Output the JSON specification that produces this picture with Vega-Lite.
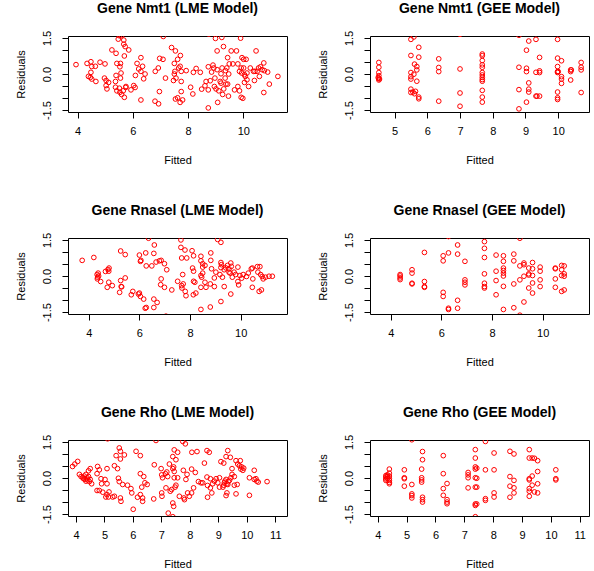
{
"$schema": "https://vega.github.io/schema/vega-lite/v6.json",
"padding": {"left": 14, "top": 1, "right": 0, "bottom": 0},
"background": "white",
"datasets": {
"nmt1_lme": [{"x":3.94,"y":0.39},{"x":4.34,"y":0.44},{"x":4.48,"y":0.51},{"x":4.51,"y":0.31},{"x":4.39,"y":-0.1},{"x":4.46,"y":-0.14},{"x":4.51,"y":-0.21},{"x":4.48,"y":0.07},{"x":4.66,"y":-0.31},{"x":4.64,"y":0.32},{"x":4.81,"y":0.49},{"x":4.99,"y":0.42},{"x":4.97,"y":-0.17},{"x":5.03,"y":-0.27},{"x":5.03,"y":-0.48},{"x":5.06,"y":-0.62},{"x":5.12,"y":-0.35},{"x":5.24,"y":1.0},{"x":5.39,"y":0.86},{"x":5.42,"y":0.44},{"x":5.55,"y":0.44},{"x":5.39,"y":-0.06},{"x":5.37,"y":-0.31},{"x":5.37,"y":-0.55},{"x":5.42,"y":-0.7},{"x":5.51,"y":1.59},{"x":5.47,"y":1.45},{"x":5.59,"y":1.59},{"x":5.67,"y":1.41},{"x":5.67,"y":1.24},{"x":5.72,"y":1.14},{"x":5.85,"y":1.0},{"x":5.69,"y":0.75},{"x":5.53,"y":0.3},{"x":5.57,"y":0.04},{"x":5.55,"y":-0.17},{"x":5.51,"y":-0.59},{"x":5.53,"y":-0.76},{"x":5.59,"y":-0.85},{"x":5.65,"y":-0.7},{"x":5.69,"y":-0.97},{"x":5.74,"y":-0.56},{"x":5.75,"y":-0.52},{"x":6.03,"y":-0.48},{"x":6.08,"y":-0.56},{"x":5.93,"y":-0.66},{"x":6.15,"y":0.44},{"x":6.29,"y":0.68},{"x":6.21,"y":0.21},{"x":6.29,"y":0.11},{"x":6.35,"y":0.32},{"x":6.44,"y":0.0},{"x":6.39,"y":-0.2},{"x":6.09,"y":-0.06},{"x":6.29,"y":-1.08},{"x":6.8,"y":-1.13},{"x":6.93,"y":-1.24},{"x":6.96,"y":-0.73},{"x":6.81,"y":0.11},{"x":6.92,"y":0.25},{"x":6.97,"y":0.65},{"x":7.09,"y":0.61},{"x":7.1,"y":1.56},{"x":7.18,"y":-0.17},{"x":7.4,"y":1.1},{"x":7.54,"y":0.96},{"x":7.5,"y":0.44},{"x":7.52,"y":0.11},{"x":7.5,"y":0.0},{"x":7.47,"y":-0.27},{"x":7.56,"y":-0.17},{"x":7.62,"y":0.61},{"x":7.72,"y":0.77},{"x":7.71,"y":0.32},{"x":7.75,"y":0.11},{"x":7.66,"y":0.25},{"x":7.75,"y":-0.31},{"x":7.75,"y":-0.73},{"x":7.54,"y":-1.04},{"x":7.62,"y":-0.99},{"x":7.71,"y":-1.18},{"x":7.8,"y":-1.08},{"x":7.93,"y":0.14},{"x":8.09,"y":-0.55},{"x":8.17,"y":-0.83},{"x":8.19,"y":0.07},{"x":8.29,"y":0.23},{"x":8.44,"y":0.07},{"x":8.49,"y":-0.63},{"x":8.61,"y":-0.49},{"x":8.65,"y":-0.31},{"x":8.73,"y":0.3},{"x":8.73,"y":-0.66},{"x":8.73,"y":-1.41},{"x":8.75,"y":1.66},{"x":8.8,"y":-0.28},{"x":8.85,"y":0.08},{"x":8.9,"y":0.37},{"x":8.93,"y":0.25},{"x":8.95,"y":-0.52},{"x":8.97,"y":-0.17},{"x":9.01,"y":-0.62},{"x":9.05,"y":0.18},{"x":9.05,"y":0.96},{"x":8.99,"y":1.48},{"x":9.07,"y":-1.18},{"x":9.11,"y":-0.7},{"x":9.16,"y":-0.31},{"x":9.19,"y":0.01},{"x":9.19,"y":-0.38},{"x":9.22,"y":1.52},{"x":9.23,"y":0.25},{"x":9.25,"y":-0.85},{"x":9.28,"y":1.14},{"x":9.29,"y":-0.62},{"x":9.34,"y":-0.17},{"x":9.35,"y":0.14},{"x":9.37,"y":-0.42},{"x":9.4,"y":0.25},{"x":9.43,"y":0.68},{"x":9.43,"y":-0.42},{"x":9.46,"y":-0.92},{"x":9.47,"y":0.0},{"x":9.49,"y":0.42},{"x":9.56,"y":0.96},{"x":9.62,"y":0.42},{"x":9.68,"y":-0.66},{"x":9.75,"y":0.96},{"x":9.8,"y":0.42},{"x":9.8,"y":-0.52},{"x":9.86,"y":0.11},{"x":9.86,"y":-0.7},{"x":9.9,"y":1.49},{"x":9.92,"y":0.25},{"x":9.92,"y":-0.97},{"x":9.94,"y":0.04},{"x":9.98,"y":-1.01},{"x":9.95,"y":0.68},{"x":10.01,"y":0.61},{"x":10.01,"y":0.25},{"x":10.04,"y":-0.03},{"x":10.04,"y":-0.35},{"x":10.1,"y":0.61},{"x":10.07,"y":-0.1},{"x":10.13,"y":0.04},{"x":10.13,"y":-0.24},{"x":10.19,"y":-0.52},{"x":10.25,"y":0.25},{"x":10.37,"y":0.11},{"x":10.42,"y":0.11},{"x":10.4,"y":-0.27},{"x":10.46,"y":0.96},{"x":10.5,"y":0.11},{"x":10.55,"y":0.25},{"x":10.58,"y":-0.1},{"x":10.62,"y":0.3},{"x":10.68,"y":0.18},{"x":10.74,"y":0.46},{"x":10.74,"y":-0.77},{"x":10.76,"y":0.14},{"x":10.88,"y":0.08},{"x":10.94,"y":-0.42},{"x":11.25,"y":-0.1}],
"nmt1_gee": [{"x":4.52,"y":0.48},{"x":4.52,"y":0.28},{"x":4.52,"y":0.06},{"x":4.52,"y":-0.07},{"x":4.52,"y":-0.18},{"x":4.52,"y":-0.25},{"x":4.54,"y":-0.21},{"x":4.5,"y":-0.15},{"x":5.5,"y":1.44},{"x":5.5,"y":0.77},{"x":5.5,"y":0.06},{"x":5.5,"y":-0.11},{"x":5.5,"y":-0.21},{"x":5.5,"y":-0.63},{"x":5.5,"y":-0.77},{"x":5.59,"y":1.54},{"x":5.61,"y":0.41},{"x":5.59,"y":-0.01},{"x":5.56,"y":-0.75},{"x":5.61,"y":-0.82},{"x":5.68,"y":0.31},{"x":5.68,"y":0.17},{"x":5.68,"y":-0.3},{"x":5.74,"y":1.11},{"x":5.74,"y":0.7},{"x":5.74,"y":-0.96},{"x":5.74,"y":-1.03},{"x":5.64,"y":-0.72},{"x":6.35,"y":0.63},{"x":6.35,"y":0.27},{"x":6.35,"y":0.1},{"x":6.35,"y":-1.13},{"x":7.0,"y":1.65},{"x":7.0,"y":0.21},{"x":7.0,"y":-0.79},{"x":7.0,"y":-1.34},{"x":7.68,"y":0.83},{"x":7.68,"y":0.76},{"x":7.68,"y":0.56},{"x":7.68,"y":0.38},{"x":7.68,"y":0.28},{"x":7.68,"y":0.06},{"x":7.68,"y":-0.04},{"x":7.68,"y":-0.14},{"x":7.68,"y":-0.23},{"x":7.68,"y":-0.3},{"x":7.68,"y":-0.68},{"x":7.68,"y":-0.96},{"x":7.68,"y":-1.17},{"x":8.8,"y":1.61},{"x":8.8,"y":0.28},{"x":8.8,"y":-0.65},{"x":8.8,"y":-1.45},{"x":9.03,"y":0.99},{"x":9.03,"y":0.24},{"x":9.03,"y":0.1},{"x":9.03,"y":-1.17},{"x":9.1,"y":1.37},{"x":9.1,"y":-0.37},{"x":9.1,"y":-0.63},{"x":9.1,"y":-0.75},{"x":9.32,"y":1.44},{"x":9.32,"y":0.07},{"x":9.32,"y":-0.92},{"x":9.35,"y":-0.92},{"x":9.43,"y":0.69},{"x":9.43,"y":0.13},{"x":9.43,"y":0.06},{"x":9.43,"y":-0.92},{"x":9.98,"y":1.44},{"x":9.98,"y":0.66},{"x":9.98,"y":0.31},{"x":9.98,"y":0.1},{"x":9.98,"y":0.06},{"x":9.98,"y":-0.75},{"x":9.98,"y":-0.99},{"x":9.98,"y":-1.06},{"x":10.0,"y":0.1},{"x":10.1,"y":0.55},{"x":10.1,"y":-0.11},{"x":10.1,"y":-0.21},{"x":10.1,"y":-0.39},{"x":10.38,"y":0.17},{"x":10.38,"y":0.1},{"x":10.38,"y":-0.25},{"x":10.4,"y":0.17},{"x":10.7,"y":0.48},{"x":10.7,"y":0.28},{"x":10.7,"y":0.17},{"x":10.7,"y":-0.77}],
"rnasel_lme": [{"x":3.74,"y":0.65},{"x":4.2,"y":0.77},{"x":4.33,"y":0.06},{"x":4.35,"y":-0.05},{"x":4.37,"y":0.12},{"x":4.39,"y":0.0},{"x":4.34,"y":-0.12},{"x":4.47,"y":-0.23},{"x":4.66,"y":0.19},{"x":4.76,"y":0.27},{"x":4.8,"y":0.33},{"x":4.79,"y":0.2},{"x":4.73,"y":-0.47},{"x":4.79,"y":-0.26},{"x":4.93,"y":-0.4},{"x":5.26,"y":1.04},{"x":5.44,"y":0.89},{"x":5.26,"y":-0.19},{"x":5.28,"y":-0.44},{"x":5.22,"y":-0.68},{"x":5.44,"y":-0.08},{"x":5.3,"y":-0.45},{"x":5.68,"y":-0.78},{"x":5.74,"y":-0.64},{"x":6.0,"y":0.87},{"x":6.04,"y":0.61},{"x":6.06,"y":0.65},{"x":6.0,"y":-0.71},{"x":6.04,"y":-0.85},{"x":5.96,"y":-0.75},{"x":6.17,"y":-0.96},{"x":6.23,"y":-1.34},{"x":6.27,"y":-1.31},{"x":6.25,"y":0.96},{"x":6.27,"y":0.42},{"x":6.36,"y":1.57},{"x":6.49,"y":0.42},{"x":6.59,"y":1.29},{"x":6.57,"y":0.94},{"x":6.66,"y":0.58},{"x":6.57,"y":-0.96},{"x":6.57,"y":-1.31},{"x":6.7,"y":-1.1},{"x":6.79,"y":0.63},{"x":6.86,"y":0.65},{"x":6.99,"y":0.51},{"x":6.86,"y":-0.12},{"x":6.84,"y":-0.36},{"x":6.99,"y":-0.47},{"x":7.08,"y":0.26},{"x":7.05,"y":-1.67},{"x":7.28,"y":-0.58},{"x":7.51,"y":-0.22},{"x":7.64,"y":1.5},{"x":7.64,"y":1.19},{"x":7.67,"y":0.75},{"x":7.71,"y":0.06},{"x":7.67,"y":-0.4},{"x":7.68,"y":-0.5},{"x":7.73,"y":-0.33},{"x":7.8,"y":1.08},{"x":7.87,"y":0.75},{"x":7.81,"y":-0.64},{"x":7.84,"y":-0.82},{"x":8.08,"y":1.05},{"x":8.14,"y":0.84},{"x":8.1,"y":0.33},{"x":8.14,"y":0.2},{"x":8.14,"y":-0.22},{"x":8.19,"y":-0.26},{"x":8.13,"y":-0.78},{"x":8.23,"y":-0.71},{"x":8.43,"y":0.82},{"x":8.43,"y":0.63},{"x":8.5,"y":0.51},{"x":8.5,"y":0.37},{"x":8.43,"y":0.02},{"x":8.46,"y":-0.05},{"x":8.5,"y":0.12},{"x":8.43,"y":-0.47},{"x":8.43,"y":-1.39},{"x":8.59,"y":0.44},{"x":8.63,"y":-0.47},{"x":8.59,"y":-0.26},{"x":8.82,"y":0.96},{"x":8.82,"y":0.65},{"x":8.85,"y":0.3},{"x":8.8,"y":-0.33},{"x":8.96,"y":-0.44},{"x":8.8,"y":-1.29},{"x":8.96,"y":-0.08},{"x":9.02,"y":0.16},{"x":9.09,"y":1.52},{"x":9.22,"y":1.4},{"x":9.22,"y":0.56},{"x":9.24,"y":0.47},{"x":9.22,"y":0.35},{"x":9.18,"y":0.06},{"x":9.28,"y":-0.05},{"x":9.22,"y":-1.06},{"x":9.35,"y":0.26},{"x":9.41,"y":0.34},{"x":9.48,"y":0.44},{"x":9.54,"y":0.16},{"x":9.35,"y":-0.44},{"x":9.54,"y":0.3},{"x":9.58,"y":0.12},{"x":9.61,"y":0.54},{"x":9.63,"y":0.4},{"x":9.61,"y":-0.75},{"x":9.67,"y":-0.05},{"x":9.74,"y":0.16},{"x":9.8,"y":0.06},{"x":9.89,"y":0.37},{"x":9.92,"y":-0.37},{"x":9.89,"y":-0.23},{"x":9.97,"y":0.02},{"x":10.04,"y":-0.09},{"x":10.1,"y":0.06},{"x":10.23,"y":-0.02},{"x":10.3,"y":0.12},{"x":10.42,"y":0.3},{"x":10.46,"y":0.33},{"x":10.46,"y":-0.47},{"x":10.48,"y":-0.12},{"x":10.66,"y":0.39},{"x":10.76,"y":0.39},{"x":10.73,"y":-0.64},{"x":10.82,"y":-0.58},{"x":10.68,"y":0.16},{"x":10.79,"y":0.06},{"x":10.85,"y":-0.02},{"x":10.89,"y":-0.12},{"x":10.98,"y":-0.05},{"x":11.12,"y":-0.01},{"x":11.25,"y":-0.01}],
"rnasel_gee": [{"x":4.37,"y":0.06},{"x":4.37,"y":0.0},{"x":4.37,"y":-0.08},{"x":4.37,"y":-0.15},{"x":4.84,"y":0.26},{"x":4.84,"y":0.12},{"x":4.84,"y":-0.3},{"x":4.84,"y":-0.33},{"x":5.33,"y":0.98},{"x":5.33,"y":-0.23},{"x":5.33,"y":-0.44},{"x":5.33,"y":-0.47},{"x":6.07,"y":0.84},{"x":6.07,"y":0.63},{"x":6.07,"y":-0.68},{"x":6.07,"y":-0.85},{"x":6.28,"y":1.64},{"x":6.28,"y":0.96},{"x":6.28,"y":-1.34},{"x":6.28,"y":-1.39},{"x":6.64,"y":1.29},{"x":6.64,"y":0.91},{"x":6.64,"y":-1.01},{"x":6.64,"y":-1.34},{"x":6.93,"y":0.61},{"x":6.93,"y":-0.16},{"x":6.93,"y":-0.26},{"x":6.93,"y":-0.37},{"x":7.7,"y":1.43},{"x":7.7,"y":1.15},{"x":7.7,"y":0.77},{"x":7.7,"y":0.09},{"x":7.7,"y":-0.3},{"x":7.7,"y":-0.44},{"x":7.7,"y":-0.5},{"x":8.16,"y":0.87},{"x":8.16,"y":0.2},{"x":8.16,"y":-0.19},{"x":8.16,"y":-0.78},{"x":8.45,"y":0.84},{"x":8.45,"y":0.61},{"x":8.45,"y":0.33},{"x":8.45,"y":0.23},{"x":8.45,"y":0.12},{"x":8.45,"y":0.0},{"x":8.45,"y":-0.43},{"x":8.45,"y":-1.39},{"x":8.86,"y":0.91},{"x":8.86,"y":0.63},{"x":8.86,"y":-0.33},{"x":8.86,"y":-1.32},{"x":9.1,"y":1.57},{"x":9.1,"y":0.42},{"x":9.1,"y":-0.16},{"x":9.1,"y":-1.63},{"x":9.26,"y":0.54},{"x":9.26,"y":0.47},{"x":9.26,"y":-0.01},{"x":9.26,"y":-1.08},{"x":9.45,"y":0.33},{"x":9.45,"y":0.09},{"x":9.45,"y":0.04},{"x":9.45,"y":-0.5},{"x":9.6,"y":0.56},{"x":9.6,"y":0.3},{"x":9.6,"y":0.02},{"x":9.6,"y":-0.29},{"x":9.6,"y":-0.71},{"x":9.9,"y":0.37},{"x":9.9,"y":0.2},{"x":9.9,"y":-0.16},{"x":9.9,"y":-0.44},{"x":10.5,"y":0.33},{"x":10.5,"y":0.3},{"x":10.5,"y":-0.12},{"x":10.5,"y":-0.47},{"x":10.75,"y":0.44},{"x":10.75,"y":0.26},{"x":10.75,"y":0.02},{"x":10.75,"y":-0.64},{"x":10.85,"y":0.42},{"x":10.85,"y":0.09},{"x":10.85,"y":-0.01},{"x":10.85,"y":-0.58}],
"rho_lme": [{"x":3.88,"y":0.48},{"x":3.96,"y":0.58},{"x":4.06,"y":0.69},{"x":4.12,"y":0.15},{"x":4.18,"y":0.06},{"x":4.24,"y":0.01},{"x":4.27,"y":-0.03},{"x":4.29,"y":0.08},{"x":4.32,"y":-0.06},{"x":4.35,"y":-0.13},{"x":4.39,"y":0.01},{"x":4.41,"y":-0.08},{"x":4.44,"y":0.06},{"x":4.47,"y":-0.15},{"x":4.5,"y":-0.06},{"x":4.35,"y":0.15},{"x":4.44,"y":0.3},{"x":4.5,"y":0.39},{"x":4.55,"y":-0.24},{"x":4.76,"y":0.48},{"x":4.82,"y":0.34},{"x":4.74,"y":0.18},{"x":4.74,"y":-0.52},{"x":4.82,"y":-0.52},{"x":4.88,"y":-0.03},{"x":4.9,"y":-0.24},{"x":4.94,"y":-0.59},{"x":5.02,"y":-0.06},{"x":5.09,"y":-0.24},{"x":5.09,"y":0.39},{"x":5.11,"y":1.63},{"x":5.09,"y":-0.69},{"x":5.14,"y":-0.79},{"x":5.05,"y":-0.79},{"x":5.16,"y":-0.58},{"x":5.29,"y":-0.79},{"x":5.35,"y":-0.76},{"x":5.35,"y":0.51},{"x":5.46,"y":0.39},{"x":5.41,"y":0.93},{"x":5.52,"y":1.25},{"x":5.56,"y":1.11},{"x":5.56,"y":0.79},{"x":5.7,"y":0.96},{"x":5.49,"y":-0.01},{"x":5.52,"y":-0.15},{"x":5.56,"y":-0.83},{"x":5.58,"y":-0.97},{"x":5.64,"y":-0.27},{"x":5.81,"y":-0.3},{"x":5.93,"y":-0.44},{"x":5.96,"y":-0.62},{"x":6.01,"y":-1.3},{"x":6.11,"y":1.11},{"x":6.26,"y":0.93},{"x":6.26,"y":0.18},{"x":6.31,"y":-0.38},{"x":6.26,"y":-0.69},{"x":6.16,"y":-0.8},{"x":6.34,"y":-0.83},{"x":6.34,"y":-0.97},{"x":6.38,"y":0.06},{"x":6.42,"y":-0.2},{"x":6.5,"y":-0.27},{"x":6.75,"y":0.55},{"x":6.73,"y":-0.87},{"x":6.81,"y":1.56},{"x":6.99,"y":0.39},{"x":7.04,"y":0.01},{"x":7.01,"y":0.13},{"x":7.01,"y":-0.62},{"x":7.02,"y":-0.76},{"x":7.14,"y":0.18},{"x":7.19,"y":0.25},{"x":7.22,"y":0.06},{"x":7.16,"y":-0.41},{"x":7.28,"y":0.58},{"x":7.24,"y":-1.46},{"x":7.31,"y":-0.55},{"x":7.36,"y":-0.48},{"x":7.4,"y":0.89},{"x":7.45,"y":1.17},{"x":7.51,"y":0.76},{"x":7.57,"y":1.07},{"x":7.4,"y":0.39},{"x":7.43,"y":0.46},{"x":7.45,"y":0.27},{"x":7.45,"y":0.01},{"x":7.48,"y":-0.38},{"x":7.4,"y":-1.04},{"x":7.43,"y":-1.18},{"x":7.4,"y":-1.61},{"x":7.51,"y":-0.3},{"x":7.57,"y":0.01},{"x":7.63,"y":-0.76},{"x":7.75,"y":1.52},{"x":7.84,"y":1.42},{"x":7.77,"y":0.32},{"x":7.81,"y":-0.9},{"x":7.79,"y":-0.83},{"x":7.86,"y":-0.06},{"x":7.9,"y":0.15},{"x":7.92,"y":-0.62},{"x":7.98,"y":-0.76},{"x":8.07,"y":1.07},{"x":8.25,"y":1.1},{"x":8.06,"y":0.37},{"x":8.19,"y":0.23},{"x":8.06,"y":-0.62},{"x":8.13,"y":-0.41},{"x":8.3,"y":-0.15},{"x":8.39,"y":-0.2},{"x":8.51,"y":0.62},{"x":8.45,"y":-0.2},{"x":8.6,"y":1.14},{"x":8.68,"y":1.07},{"x":8.6,"y":0.04},{"x":8.62,"y":-0.31},{"x":8.62,"y":-0.8},{"x":8.72,"y":-0.03},{"x":8.72,"y":-0.41},{"x":8.77,"y":-0.62},{"x":8.8,"y":-0.24},{"x":8.86,"y":-0.13},{"x":8.92,"y":-0.03},{"x":8.98,"y":-0.2},{"x":9.04,"y":0.01},{"x":9.04,"y":-0.38},{"x":9.09,"y":0.68},{"x":9.19,"y":0.62},{"x":9.16,"y":-0.38},{"x":9.19,"y":-0.3},{"x":9.21,"y":-0.2},{"x":9.23,"y":-0.13},{"x":9.27,"y":-0.06},{"x":9.3,"y":-0.24},{"x":9.33,"y":-0.27},{"x":9.35,"y":-0.15},{"x":9.39,"y":-0.1},{"x":9.27,"y":0.89},{"x":9.33,"y":1.14},{"x":9.42,"y":0.86},{"x":9.27,"y":-0.73},{"x":9.3,"y":-0.62},{"x":9.44,"y":0.01},{"x":9.48,"y":0.15},{"x":9.48,"y":0.39},{"x":9.56,"y":0.06},{"x":9.56,"y":-0.3},{"x":9.62,"y":0.72},{"x":9.68,"y":0.58},{"x":9.77,"y":0.72},{"x":9.74,"y":0.51},{"x":9.79,"y":0.37},{"x":9.82,"y":0.46},{"x":9.86,"y":0.32},{"x":9.89,"y":0.41},{"x":9.66,"y":-0.27},{"x":9.62,"y":-0.66},{"x":10.09,"y":0.01},{"x":10.09,"y":-0.72},{"x":10.26,"y":0.32},{"x":10.26,"y":-0.06},{"x":10.32,"y":-0.03},{"x":10.35,"y":-0.13},{"x":10.4,"y":-0.17},{"x":10.71,"y":-0.15}],
"rho_gee": [{"x":4.28,"y":0.1},{"x":4.28,"y":0.04},{"x":4.28,"y":-0.04},{"x":4.28,"y":-0.1},{"x":4.33,"y":0.06},{"x":4.33,"y":-0.02},{"x":4.33,"y":0.13},{"x":4.4,"y":0.37},{"x":4.4,"y":0.2},{"x":4.4,"y":0.08},{"x":4.4,"y":-0.03},{"x":4.4,"y":-0.1},{"x":4.4,"y":-0.18},{"x":4.4,"y":-0.24},{"x":4.92,"y":0.34},{"x":4.92,"y":0.01},{"x":4.92,"y":-0.03},{"x":4.92,"y":-0.34},{"x":5.18,"y":1.59},{"x":5.18,"y":-0.27},{"x":5.18,"y":-0.66},{"x":5.18,"y":-0.73},{"x":5.18,"y":-0.83},{"x":5.55,"y":1.1},{"x":5.55,"y":0.76},{"x":5.52,"y":0.37},{"x":5.52,"y":0.01},{"x":5.52,"y":-0.08},{"x":5.52,"y":-0.17},{"x":5.55,"y":-0.8},{"x":5.55,"y":-0.9},{"x":5.55,"y":-1.0},{"x":6.27,"y":0.93},{"x":6.27,"y":0.18},{"x":6.27,"y":-0.44},{"x":6.27,"y":-0.72},{"x":6.4,"y":-0.23},{"x":6.4,"y":-0.9},{"x":6.4,"y":-1.0},{"x":6.4,"y":-1.07},{"x":7.13,"y":0.23},{"x":7.13,"y":0.13},{"x":7.13,"y":0.01},{"x":7.13,"y":-0.41},{"x":7.38,"y":1.18},{"x":7.38,"y":0.83},{"x":7.38,"y":0.46},{"x":7.38,"y":0.37},{"x":7.38,"y":0.01},{"x":7.38,"y":-0.38},{"x":7.38,"y":-1.08},{"x":7.38,"y":-1.14},{"x":7.38,"y":-1.61},{"x":7.43,"y":0.41},{"x":7.43,"y":-0.01},{"x":7.43,"y":-0.38},{"x":7.43,"y":-1.08},{"x":7.73,"y":1.52},{"x":7.73,"y":0.34},{"x":7.73,"y":-0.86},{"x":7.73,"y":-0.93},{"x":8.03,"y":1.04},{"x":8.03,"y":0.34},{"x":8.03,"y":-0.62},{"x":8.03,"y":-0.79},{"x":8.58,"y":1.11},{"x":8.58,"y":0.06},{"x":8.58,"y":-0.34},{"x":8.58,"y":-0.8},{"x":8.72,"y":1.0},{"x":8.72,"y":-0.1},{"x":8.72,"y":-0.41},{"x":8.72,"y":-0.62},{"x":9.25,"y":1.18},{"x":9.25,"y":0.83},{"x":9.25,"y":-0.03},{"x":9.25,"y":-0.08},{"x":9.25,"y":-0.44},{"x":9.25,"y":-0.55},{"x":9.25,"y":-0.76},{"x":9.35,"y":0.83},{"x":9.35,"y":0.08},{"x":9.35,"y":-0.3},{"x":9.43,"y":0.82},{"x":9.43,"y":-0.58},{"x":9.54,"y":0.72},{"x":9.54,"y":0.27},{"x":9.54,"y":-0.24},{"x":9.54,"y":-0.62},{"x":10.17,"y":0.34},{"x":10.17,"y":-0.03},{"x":10.17,"y":-0.08}]
},
"concat": [
{"title": "Gene Nmt1 (LME Model)", "width": 219, "height": 76, "data": {"name": "nmt1_lme"},
 "mark": {"type": "point", "shape": "circle", "filled": false, "color": "#ff0000", "size": 22, "strokeWidth": 1, "opacity": 1, "clip": true},
 "encoding": {
  "x": {"field": "x", "type": "quantitative", "scale": {"domain": [3.65, 11.58], "nice": false, "zero": false}, "axis": {"values": [4, 6, 8, 10], "title": "Fitted"}},
  "y": {"field": "y", "type": "quantitative", "scale": {"domain": [-1.58, 1.58], "nice": false, "zero": false}, "axis": {"values": [-1.5, -1, -0.5, 0, 0.5, 1, 1.5], "title": "Residuals", "labelExpr": "datum.value == 1.5 ? '1.5' : datum.value == 0 ? '0.0' : datum.value == -1.5 ? '-1.5' : ''"}}}},
{"title": "Gene Nmt1 (GEE Model)", "width": 219, "height": 76, "data": {"name": "nmt1_gee"},
 "mark": {"type": "point", "shape": "circle", "filled": false, "color": "#ff0000", "size": 22, "strokeWidth": 1, "opacity": 1, "clip": true},
 "encoding": {
  "x": {"field": "x", "type": "quantitative", "scale": {"domain": [4.25, 10.94], "nice": false, "zero": false}, "axis": {"values": [5, 6, 7, 8, 9, 10], "title": "Fitted"}},
  "y": {"field": "y", "type": "quantitative", "scale": {"domain": [-1.58, 1.58], "nice": false, "zero": false}, "axis": {"values": [-1.5, -1, -0.5, 0, 0.5, 1, 1.5], "title": "Residuals", "labelExpr": "datum.value == 1.5 ? '1.5' : datum.value == 0 ? '0.0' : datum.value == -1.5 ? '-1.5' : ''"}}}},
{"title": "Gene Rnasel (LME Model)", "width": 219, "height": 76, "data": {"name": "rnasel_lme"},
 "mark": {"type": "point", "shape": "circle", "filled": false, "color": "#ff0000", "size": 22, "strokeWidth": 1, "opacity": 1, "clip": true},
 "encoding": {
  "x": {"field": "x", "type": "quantitative", "scale": {"domain": [3.18, 11.83], "nice": false, "zero": false}, "axis": {"values": [4, 6, 8, 10], "title": "Fitted"}},
  "y": {"field": "y", "type": "quantitative", "scale": {"domain": [-1.58, 1.58], "nice": false, "zero": false}, "axis": {"values": [-1.5, -1, -0.5, 0, 0.5, 1, 1.5], "title": "Residuals", "labelExpr": "datum.value == 1.5 ? '1.5' : datum.value == 0 ? '0.0' : datum.value == -1.5 ? '-1.5' : ''"}}}},
{"title": "Gene Rnasel (GEE Model)", "width": 219, "height": 76, "data": {"name": "rnasel_gee"},
 "mark": {"type": "point", "shape": "circle", "filled": false, "color": "#ff0000", "size": 22, "strokeWidth": 1, "opacity": 1, "clip": true},
 "encoding": {
  "x": {"field": "x", "type": "quantitative", "scale": {"domain": [3.18, 11.83], "nice": false, "zero": false}, "axis": {"values": [4, 6, 8, 10], "title": "Fitted"}},
  "y": {"field": "y", "type": "quantitative", "scale": {"domain": [-1.58, 1.58], "nice": false, "zero": false}, "axis": {"values": [-1.5, -1, -0.5, 0, 0.5, 1, 1.5], "title": "Residuals", "labelExpr": "datum.value == 1.5 ? '1.5' : datum.value == 0 ? '0.0' : datum.value == -1.5 ? '-1.5' : ''"}}}},
{"title": "Gene Rho (LME Model)", "width": 219, "height": 76, "data": {"name": "rho_lme"},
 "mark": {"type": "point", "shape": "circle", "filled": false, "color": "#ff0000", "size": 22, "strokeWidth": 1, "opacity": 1, "clip": true},
 "encoding": {
  "x": {"field": "x", "type": "quantitative", "scale": {"domain": [3.72, 11.41], "nice": false, "zero": false}, "axis": {"values": [4, 5, 6, 7, 8, 9, 10, 11], "title": "Fitted"}},
  "y": {"field": "y", "type": "quantitative", "scale": {"domain": [-1.58, 1.58], "nice": false, "zero": false}, "axis": {"values": [-1.5, -1, -0.5, 0, 0.5, 1, 1.5], "title": "Residuals", "labelExpr": "datum.value == 1.5 ? '1.5' : datum.value == 0 ? '0.0' : datum.value == -1.5 ? '-1.5' : ''"}}}},
{"title": "Gene Rho (GEE Model)", "width": 219, "height": 76, "data": {"name": "rho_gee"},
 "mark": {"type": "point", "shape": "circle", "filled": false, "color": "#ff0000", "size": 22, "strokeWidth": 1, "opacity": 1, "clip": true},
 "encoding": {
  "x": {"field": "x", "type": "quantitative", "scale": {"domain": [3.73, 11.32], "nice": false, "zero": false}, "axis": {"values": [4, 5, 6, 7, 8, 9, 10, 11], "title": "Fitted"}},
  "y": {"field": "y", "type": "quantitative", "scale": {"domain": [-1.58, 1.58], "nice": false, "zero": false}, "axis": {"values": [-1.5, -1, -0.5, 0, 0.5, 1, 1.5], "title": "Residuals", "labelExpr": "datum.value == 1.5 ? '1.5' : datum.value == 0 ? '0.0' : datum.value == -1.5 ? '-1.5' : ''"}}}}
],
"columns": 2,
"spacing": {"row": 126, "column": 83},
"bounds": "flush",
"resolve": {"scale": {"x": "independent", "y": "independent"}},
"config": {
 "font": "Liberation Sans",
 "view": {"stroke": "#000000", "strokeWidth": 1},
 "axis": {"domain": false, "grid": false, "ticks": true, "tickColor": "#000000", "tickSize": 6, "tickWidth": 1, "labelColor": "#000000", "labelFontSize": 11, "labelFont": "Liberation Sans", "titleColor": "#000000", "titleFont": "Liberation Sans", "titleFontSize": 11, "titleFontWeight": "normal", "labelOverlap": false, "labelFlush": false},
 "axisX": {"labelPadding": 7, "titleY": 48, "titleBaseline": "middle"},
 "axisY": {"labelAngle": -90, "labelAlign": "center", "labelBaseline": "bottom", "labelPadding": 10, "titleX": -47, "titleBaseline": "middle"},
 "title": {"font": "Liberation Sans", "fontSize": 14, "fontWeight": "bold", "color": "#000000", "anchor": "middle", "frame": "group", "offset": 14}
}
}
